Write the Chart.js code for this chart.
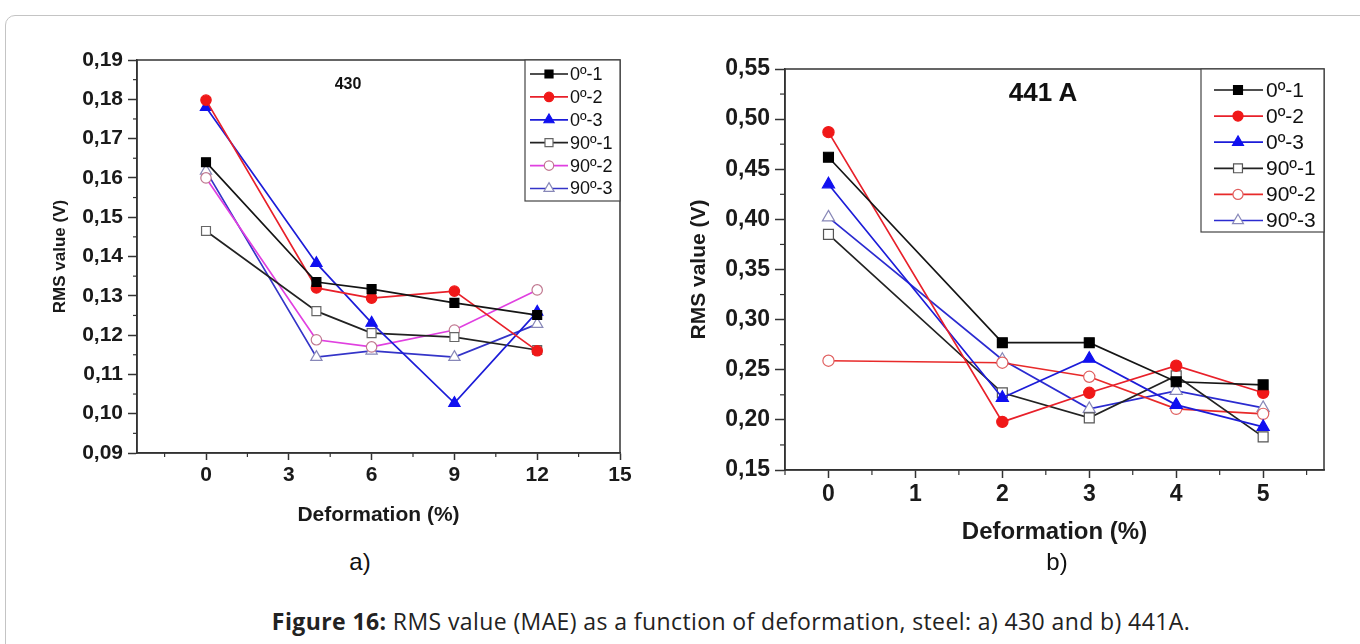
<!DOCTYPE html>
<html>
<head>
<meta charset="utf-8">
<title>Figure 16 - RMS value vs deformation</title>
<script src="https://cdn.jsdelivr.net/npm/chart.js@4.4.0/dist/chart.umd.min.js"></script>
<style>
    html, body { margin: 0; padding: 0; background: #fff; width: 1360px; height: 644px; overflow: hidden; }
    .frame { position: absolute; left: 5px; top: 15px; width: 1400px; height: 700px; border: 1.5px solid #c4c4c4; border-radius: 10px; }
    canvas { position: absolute; }
    .lbl { position: absolute; transform: translate(-50%, -50%); white-space: nowrap; color: #111; font-family: 'Liberation Sans', Arial, sans-serif; }
    .caption { position: absolute; left: 731px; top: 621px; transform: translate(-50%, -50%); white-space: nowrap;
               font-family: 'Open Sans', Lato, sans-serif; font-size: 23px; letter-spacing: 0.4px; color: #222; }
</style>
</head>
<body>
<div class="frame"></div>
<canvas id="c430" width="620" height="500" style="left:20px; top:40px; width:620px; height:500px;"></canvas>
<canvas id="c441" width="680" height="520" style="left:680px; top:40px; width:680px; height:520px;"></canvas>
<div class="lbl" style="left:348px; top:84px; font-size:16px; font-weight:bold;">430</div>
<div class="lbl" style="left:1043px; top:92px; font-size:26px; font-weight:bold;">441 A</div>
<div class="lbl" style="left:360px; top:562px; font-size:24px;">a)</div>
<div class="lbl" style="left:1057px; top:562px; font-size:24px;">b)</div>
<div class="caption"><b>Figure 16:</b> RMS value (MAE) as a function of deformation, steel: a) 430 and b) 441A.</div>

<script>
// ---- data: steel 430 (left) ----
const def430 = [0, 4, 6, 9, 12];
const a430_0_1 = [0.164, 0.1335, 0.1317, 0.1282, 0.1251];
const a430_0_2 = [0.1798, 0.132, 0.1294, 0.1312, 0.116];
const a430_0_3 = [0.178, 0.1383, 0.1231, 0.1027, 0.1259];
const a430_90_1 = [0.1465, 0.1261, 0.1205, 0.1195, 0.1162];
const a430_90_2 = [0.160, 0.1188, 0.117, 0.1213, 0.1315];
const a430_90_3 = [0.1618, 0.1144, 0.116, 0.1144, 0.1228];
const ticks430X = [0, 3, 6, 9, 12, 15];
const minor430X = [-1.5, 1.5, 4.5, 7.5, 10.5, 13.5];
const ticks430Y = [0.09, 0.10, 0.11, 0.12, 0.13, 0.14, 0.15, 0.16, 0.17, 0.18, 0.19];
const minor430Y = [0.095, 0.105, 0.115, 0.125, 0.135, 0.145, 0.155, 0.165, 0.175, 0.185];

// ---- data: steel 441A (right) ----
const def441 = [0, 2, 3, 4, 5];
const b441_0_1 = [0.462, 0.277, 0.277, 0.238, 0.235];
const b441_0_2 = [0.487, 0.198, 0.227, 0.254, 0.227];
const b441_0_3 = [0.435, 0.222, 0.261, 0.215, 0.193];
const b441_90_1 = [0.385, 0.227, 0.202, 0.244, 0.183];
const b441_90_2 = [0.259, 0.257, 0.243, 0.211, 0.206];
const b441_90_3 = [0.402, 0.260, 0.211, 0.229, 0.212];
const ticks441X = [0, 1, 2, 3, 4, 5];
const minor441X = [-0.5, 0.5, 1.5, 2.5, 3.5, 4.5, 5.5];
const ticks441Y = [0.15, 0.20, 0.25, 0.30, 0.35, 0.40, 0.45, 0.50, 0.55];
const minor441Y = [0.175, 0.225, 0.275, 0.325, 0.375, 0.425, 0.475, 0.525];

const seriesLabels = ['0º-1', '0º-2', '0º-3', '90º-1', '90º-2', '90º-3'];

Chart.defaults.font.family = "'Liberation Sans', Arial, sans-serif";
Chart.defaults.color = '#1a1a1a';

function mkSet(label, xs, ys, line, style, fill, edge, r) {
    return {
        label: label,
        data: xs.map((x, i) => ({ x: x, y: ys[i] })),
        borderColor: line,
        borderWidth: 1.7,
        pointStyle: style,
        pointRadius: r,
        pointBackgroundColor: fill,
        pointBorderColor: edge,
        pointBorderWidth: 1.2,
        tension: 0,
        fill: false
    };
}

// own marker drawing for the legend (same geometry as Chart.js point styles)
function drawMarker(ctx, style, x, y, r, fill, edge, lw) {
    ctx.beginPath();
    if (style === 'rect') {
        const s = Math.SQRT1_2 * r;
        ctx.rect(x - s, y - s, 2 * s, 2 * s);
    } else if (style === 'triangle') {
        ctx.moveTo(x, y - r);
        ctx.lineTo(x + 0.866 * r, y + 0.5 * r);
        ctx.lineTo(x - 0.866 * r, y + 0.5 * r);
        ctx.closePath();
    } else {
        ctx.arc(x, y, r, 0, Math.PI * 2);
    }
    ctx.fillStyle = fill;
    ctx.fill();
    ctx.lineWidth = lw;
    ctx.strokeStyle = edge;
    ctx.stroke();
}

// box round the plot + minor ticks
const framePlugin = {
    id: 'frame',
    afterDraw(chart, args, o) {
        const { ctx, chartArea: a } = chart;
        const xs = chart.scales.x, ys = chart.scales.y;
        ctx.save();
        ctx.strokeStyle = '#333';
        ctx.lineWidth = 1.5;
        ctx.strokeRect(a.left, a.top, a.right - a.left, a.bottom - a.top);
        ctx.lineWidth = 1.2;
        o.minorX.forEach(v => {
            const px = xs.getPixelForValue(v);
            ctx.beginPath(); ctx.moveTo(px, a.bottom); ctx.lineTo(px, a.bottom + o.lenX); ctx.stroke();
        });
        o.minorY.forEach(v => {
            const py = ys.getPixelForValue(v);
            ctx.beginPath(); ctx.moveTo(a.left, py); ctx.lineTo(a.left - o.lenY, py); ctx.stroke();
        });
        ctx.restore();
    }
};

// legend in a box at the top right corner of the plot
const boxLegend = {
    id: 'boxLegend',
    afterDraw(chart, args, o) {
        const { ctx, chartArea: a } = chart;
        const x0 = a.right - o.width, y0 = a.top;
        ctx.save();
        ctx.fillStyle = '#fff';
        ctx.fillRect(x0, y0, o.width, o.height);
        ctx.strokeStyle = '#444';
        ctx.lineWidth = 1.2;
        ctx.strokeRect(x0, y0, o.width, o.height);
        ctx.font = o.font;
        ctx.textBaseline = 'middle';
        chart.data.datasets.forEach((ds, i) => {
            const y = y0 + o.rowTop + i * o.rowGap;
            ctx.beginPath();
            ctx.moveTo(x0 + o.line0, y);
            ctx.lineTo(x0 + o.line1, y);
            ctx.strokeStyle = ds.borderColor;
            ctx.lineWidth = ds.borderWidth;
            ctx.stroke();
            drawMarker(ctx, ds.pointStyle, x0 + o.mark, y, ds.pointRadius * 0.9, ds.pointBackgroundColor, ds.pointBorderColor, ds.pointBorderWidth);
            ctx.fillStyle = '#111';
            ctx.fillText(ds.label, x0 + o.text, y + 1);
        });
        ctx.restore();
    }
};

const comma = v => v.toFixed(2).replace('.', ',');

function axes(cfg) {
    return {
        x: {
            type: 'linear', min: cfg.xMin, max: cfg.xMax,
            afterBuildTicks: s => { s.ticks = cfg.xTicks.map(v => ({ value: v })); },
            afterFit: s => { s.height = cfg.xHeight; },
            grid: { drawOnChartArea: false, tickLength: cfg.xTickLen, tickColor: '#333', tickWidth: 1.5 },
            border: { color: '#333', width: 1.5 },
            ticks: { autoSkip: false, maxRotation: 0, padding: cfg.xPad, color: '#1a1a1a',
                     font: { size: cfg.tickSize, weight: 'bold' }, callback: v => String(v) },
            title: { display: true, text: 'Deformation (%)', color: '#1a1a1a',
                     font: { size: cfg.xTitleSize, weight: 'bold' }, padding: { top: 0, bottom: cfg.xTitlePad } }
        },
        y: {
            type: 'linear', min: cfg.yMin, max: cfg.yMax,
            afterBuildTicks: s => { s.ticks = cfg.yTicks.map(v => ({ value: v })); },
            afterFit: s => { s.width = cfg.yWidth; },
            grid: { drawOnChartArea: false, tickLength: cfg.yTickLen, tickColor: '#333', tickWidth: 1.5 },
            border: { color: '#333', width: 1.5 },
            ticks: { autoSkip: false, padding: cfg.yPad, color: '#1a1a1a',
                     font: { size: cfg.tickSize, weight: 'bold' }, callback: comma },
            title: { display: true, text: 'RMS value (V)', color: '#1a1a1a',
                     font: { size: cfg.yTitleSize, weight: 'bold' }, padding: { top: cfg.yTitlePad, bottom: 0 } }
        }
    };
}

// left chart: 430
new Chart(document.getElementById('c430'), {
    type: 'line',
    data: {
        datasets: [
            mkSet(seriesLabels[0], def430, a430_0_1, '#151515', 'rect', '#000', '#000', 6.3),
            mkSet(seriesLabels[1], def430, a430_0_2, '#e8202a', 'circle', '#f01818', '#f01818', 5.2),
            mkSet(seriesLabels[2], def430, a430_0_3, '#1c1cd8', 'triangle', '#1010f0', '#1010f0', 6.5),
            mkSet(seriesLabels[3], def430, a430_90_1, '#222', 'rect', '#fff', '#666', 6.3),
            mkSet(seriesLabels[4], def430, a430_90_2, '#e040e0', 'circle', '#fff', '#c07890', 5.2),
            mkSet(seriesLabels[5], def430, a430_90_3, '#3434c8', 'triangle', '#fff', '#8888b8', 6.5)
        ]
    },
    options: {
        responsive: false,
        animation: false,
        layout: { padding: { top: 20, right: 20, left: 0, bottom: 0 } },
        plugins: {
            legend: { display: false },
            tooltip: { enabled: false },
            frame: { minorX: minor430X, minorY: minor430Y, lenX: 4, lenY: 4 },
            boxLegend: { width: 95, height: 141, rowTop: 14, rowGap: 22.9, line0: 5, line1: 43, mark: 24, text: 45,
                         font: "18px 'Liberation Sans', Arial, sans-serif" }
        },
        scales: axes({
            xMin: -2.5, xMax: 15, xTicks: ticks430X, xHeight: 87, xTickLen: 7, xPad: 3,
            yMin: 0.09, yMax: 0.19, yTicks: ticks430Y, yWidth: 117, yTickLen: 9, yPad: 5,
            tickSize: 21, xTitleSize: 21, xTitlePad: 12, yTitleSize: 17, yTitlePad: 30
        })
    },
    plugins: [framePlugin, boxLegend]
});

// right chart: 441A
new Chart(document.getElementById('c441'), {
    type: 'line',
    data: {
        datasets: [
            mkSet(seriesLabels[0], def441, b441_0_1, '#151515', 'rect', '#000', '#000', 7),
            mkSet(seriesLabels[1], def441, b441_0_2, '#e8202a', 'circle', '#f01818', '#f01818', 5.6),
            mkSet(seriesLabels[2], def441, b441_0_3, '#1c1cd8', 'triangle', '#1010f0', '#1010f0', 7),
            mkSet(seriesLabels[3], def441, b441_90_1, '#222', 'rect', '#fff', '#555', 7),
            mkSet(seriesLabels[4], def441, b441_90_2, '#e82a2a', 'circle', '#fff', '#e06060', 5.6),
            mkSet(seriesLabels[5], def441, b441_90_3, '#2b2bd0', 'triangle', '#fff', '#8888b8', 7)
        ]
    },
    options: {
        responsive: false,
        animation: false,
        layout: { padding: { top: 29, right: 36, left: 0, bottom: 0 } },
        plugins: {
            legend: { display: false },
            tooltip: { enabled: false },
            frame: { minorX: minor441X, minorY: minor441Y, lenX: 5, lenY: 5 },
            boxLegend: { width: 123, height: 163, rowTop: 21, rowGap: 26.1, line0: 13, line1: 62, mark: 37, text: 65,
                         font: "21px 'Liberation Sans', Arial, sans-serif" }
        },
        scales: axes({
            xMin: -0.5, xMax: 5.7, xTicks: ticks441X, xHeight: 90, xTickLen: 8, xPad: 3,
            yMin: 0.15, yMax: 0.55, yTicks: ticks441Y, yWidth: 105, yTickLen: 10, yPad: 5,
            tickSize: 23, xTitleSize: 24, xTitlePad: 13, yTitleSize: 21, yTitlePad: 7
        })
    },
    plugins: [framePlugin, boxLegend]
});
</script>
</body>
</html>
